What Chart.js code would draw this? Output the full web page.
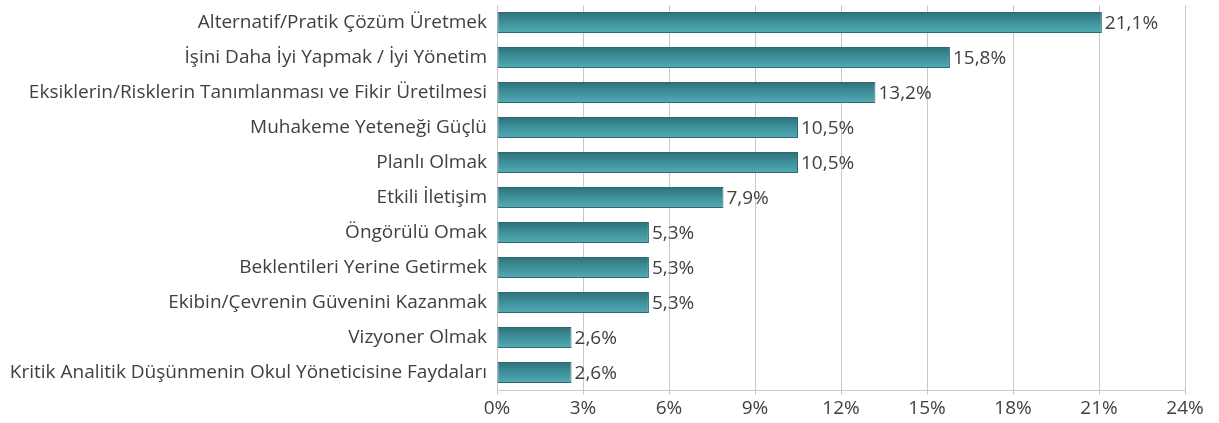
<!DOCTYPE html>
<html><head><meta charset="utf-8">
<script src="https://cdn.jsdelivr.net/npm/chart.js@4/dist/chart.umd.min.js"></script>
<style>html,body{margin:0;padding:0;background:#fff}#wrap{width:1219px;height:423px}</style>
</head><body><div id="wrap"><canvas id="c" width="1219" height="423"></canvas></div>
<script>
const categories = [
  "Alternatif/Pratik Çözüm Üretmek",
  "İşini Daha İyi Yapmak / İyi Yönetim",
  "Eksiklerin/Risklerin Tanımlanması ve Fikir Üretilmesi",
  "Muhakeme Yeteneği Güçlü",
  "Planlı Olmak",
  "Etkili İletişim",
  "Öngörülü Omak",
  "Beklentileri Yerine Getirmek",
  "Ekibin/Çevrenin Güvenini Kazanmak",
  "Vizyoner Olmak",
  "Kritik Analitik Düşünmenin Okul Yöneticisine Faydaları"
];
const values = [21.1, 15.8, 13.2, 10.5, 10.5, 7.9, 5.3, 5.3, 5.3, 2.6, 2.6];
const xTicks = [0, 3, 6, 9, 12, 15, 18, 21, 24];

const FONT = "'Open Sans', 'Noto Sans', sans-serif";
const TXT = '#404040';
const FS = 19;

function fmt(v){ return v.toFixed(1).replace('.', ',') + '%'; }

function barFill(context){
  const chart = context.chart;
  const ys = chart.scales && chart.scales.y;
  if (!ys || ys.top === undefined || !chart.chartArea) return '#4297a1';
  const cy = ys.getPixelForValue(context.dataIndex);
  const h = 11;
  const g = chart.ctx.createLinearGradient(0, cy - h, 0, cy + h);
  g.addColorStop(0, '#2d6f78');
  g.addColorStop(0.5, '#3e919b');
  g.addColorStop(1, '#55abb6');
  return g;
}

const labelPlugin = {
  id: 'vlabels',
  afterDatasetsDraw(chart){
    const ctx = chart.ctx;
    const meta = chart.getDatasetMeta(0);
    ctx.save();
    ctx.font = FS + 'px ' + FONT;
    ctx.fillStyle = TXT;
    ctx.textAlign = 'left';
    ctx.textBaseline = 'middle';
    meta.data.forEach((bar, i) => {
      ctx.fillText(fmt(values[i]), bar.x + 3, bar.y + 1);
    });
    ctx.restore();
  }
};

new Chart(document.getElementById('c'), {
  type: 'bar',
  data: {
    labels: categories,
    datasets: [{
      data: values,
      backgroundColor: barFill,
      borderColor: '#2c6b74',
      borderWidth: 1,
      borderSkipped: false,
      barPercentage: 0.6,
      categoryPercentage: 1.0
    }]
  },
  options: {
    indexAxis: 'y',
    responsive: false,
    animation: false,
    devicePixelRatio: 1,
    layout: { padding: { top: 5, right: 34, left: 0, bottom: 0 } },
    plugins: { legend: { display: false }, tooltip: { enabled: false } },
    scales: {
      x: {
        min: 0, max: 24,
        afterBuildTicks(axis){ axis.ticks = xTicks.map(v => ({ value: v })); },
        afterFit(axis){ axis.height = 33; axis.paddingLeft = 0; axis.paddingRight = 0; },
        grid: { color: '#c8c8c8', lineWidth: 1, drawTicks: true, tickLength: 5, tickColor: '#c8c8c8' },
        border: { display: true, color: '#c8c8c8' },
        ticks: {
          padding: 2,
          color: TXT,
          font: { family: FONT, size: FS },
          callback: v => v + '%',
          maxRotation: 0
        }
      },
      y: {
        afterFit(axis){ axis.width = 497; axis.paddingTop = 0; axis.paddingBottom = 0; },
        grid: { display: false, drawTicks: false },
        border: { display: false },
        ticks: {
          padding: 10,
          color: TXT,
          font: { family: FONT, size: FS },
          autoSkip: false
        }
      }
    }
  },
  plugins: [labelPlugin]
});
</script></body></html>
